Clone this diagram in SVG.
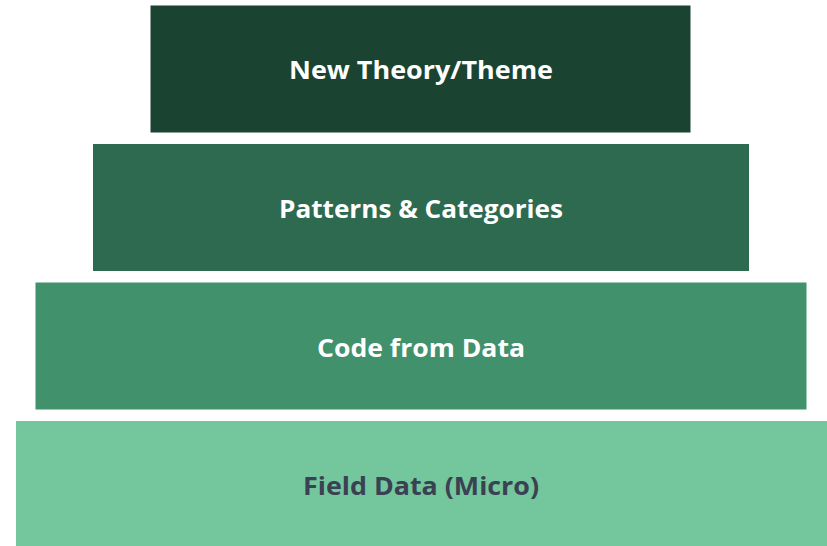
<svg xmlns="http://www.w3.org/2000/svg" width="827" height="546" viewBox="0 0 827 546">
<style>
.lbl{font-family:"Open Sans","Noto Sans","Liberation Sans",sans-serif;font-weight:bold;font-size:25px;text-anchor:middle}
.w{fill:#ffffff}
.d{fill:#3a4152}
</style>
<rect width="827" height="546" fill="#ffffff"/>
<g id="node-theory">
<rect x="150.5" y="5.5" width="540" height="127" fill="#1b4332"/>
<text class="lbl w" x="421" y="79" textLength="264" lengthAdjust="spacingAndGlyphs">New Theory/Theme</text>
</g>
<g id="node-patterns">
<rect x="93" y="144" width="656" height="127" fill="#2d6a4f"/>
<text class="lbl w" x="421" y="218" textLength="284" lengthAdjust="spacingAndGlyphs">Patterns &amp; Categories</text>
</g>
<g id="node-code">
<rect x="35.5" y="282.5" width="771" height="127" fill="#40916c"/>
<text class="lbl w" x="421" y="357" textLength="208" lengthAdjust="spacingAndGlyphs">Code from Data</text>
</g>
<g id="node-field">
<rect x="16" y="421" width="811" height="127" fill="#74c69d"/>
<text class="lbl d" x="421" y="495" textLength="236" lengthAdjust="spacingAndGlyphs">Field Data (Micro)</text>
</g>
<g id="connectors"/>
</svg>
